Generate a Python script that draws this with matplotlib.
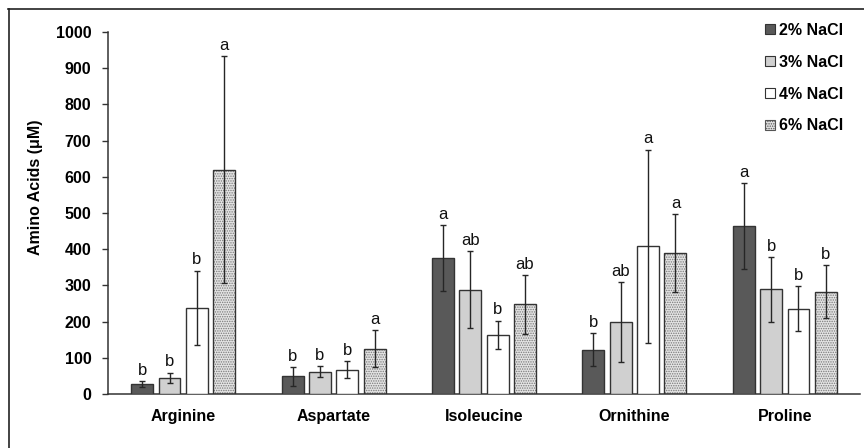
import matplotlib
matplotlib.use("Agg")
import matplotlib.pyplot as plt
import numpy as np
from matplotlib.lines import Line2D
from matplotlib.patches import Patch

plt.rcParams['font.family'] = ['Liberation Sans', 'DejaVu Sans']
plt.rcParams['hatch.linewidth'] = 0.7

categories = ['Arginine', 'Aspartate', 'Isoleucine', 'Ornithine', 'Proline']
series = ['2% NaCl', '3% NaCl', '4% NaCl', '6% NaCl']

nacl2 = [28, 49, 375, 122, 464]
nacl2_err = [8, 26, 91, 46, 118]
nacl3 = [45, 62, 288, 199, 289]
nacl3_err = [14, 16, 107, 110, 90]
nacl4 = [238, 67, 163, 408, 236]
nacl4_err = [103, 24, 40, 267, 61]
nacl6 = [620, 125, 248, 390, 282]
nacl6_err = [314, 51, 81, 107, 73]

letters2 = ['b', 'b', 'a', 'b', 'a']
letters3 = ['b', 'b', 'ab', 'ab', 'b']
letters4 = ['b', 'b', 'b', 'a', 'b']
letters6 = ['a', 'a', 'ab', 'a', 'b']

yticks = [0, 100, 200, 300, 400, 500, 600, 700, 800, 900, 1000]

values = [nacl2, nacl3, nacl4, nacl6]
errors = [nacl2_err, nacl3_err, nacl4_err, nacl6_err]
letters = [letters2, letters3, letters4, letters6]
faces = ['#595959', '#d0d0d0', '#ffffff', '#e4e4e4']
hatches = [None, None, None, '.......']
edge = '#333333'

fig = plt.figure(figsize=(8.64, 4.48), dpi=100)
ax = fig.add_axes([108/864, 1-394/448, (860-108)/864, (394-32)/448])

x = np.arange(len(categories))
pitch = 0.182
width = 0.146
offs = (np.arange(4) - 1.5) * pitch

for i in range(4):
    xs = x + offs[i]
    if hatches[i]:
        ax.bar(xs, values[i], width, color=faces[i], edgecolor='#7a7a7a',
               hatch=hatches[i], linewidth=0, zorder=2)
        ax.bar(xs, values[i], width, fill=False, edgecolor=edge,
               linewidth=1.0, zorder=3)
    else:
        ax.bar(xs, values[i], width, color=faces[i], edgecolor=edge,
               linewidth=1.0, zorder=3)
    ax.errorbar(xs, values[i], yerr=errors[i], fmt='none', ecolor='#262626',
                elinewidth=1.0, capsize=2.5, capthick=1.0, zorder=4)
    for xi, v, e, t in zip(xs, values[i], errors[i], letters[i]):
        ax.annotate(t, (xi, v + e), xytext=(0, 4.5), textcoords='offset points',
                    ha='center', va='baseline', fontsize=12, color='#111111')

ax.set_xlim(-0.5, len(categories) - 0.5)
ax.set_ylim(0, 1000)
ax.set_yticks(yticks)
ax.set_yticklabels([str(t) for t in yticks], fontsize=11.5, fontweight='bold')
ax.set_xticks(x)
ax.set_xticklabels(categories, fontsize=11.5, fontweight='bold')
ax.tick_params(axis='x', length=0, pad=11)
ax.tick_params(axis='y', length=4, width=1, color='#333333', pad=8)
for s in ['top', 'right']:
    ax.spines[s].set_visible(False)
for s in ['left', 'bottom']:
    ax.spines[s].set_color('#333333')
    ax.spines[s].set_linewidth(1.1)
ax.set_ylabel('Amino Acids (μM)', fontsize=11.5, fontweight='bold')
ax.yaxis.set_label_coords((43 - 108) / 752, (394 - 187) / 362)

handles = []
for i in range(4):
    handles.append(Patch(facecolor=faces[i], edgecolor=edge if not hatches[i] else '#555555',
                         hatch=hatches[i], linewidth=0.8))
leg = fig.legend(handles, series, loc='upper left', bbox_to_anchor=(765/864, 1-23/448),
                 frameon=False, prop={'size': 11.5, 'weight': 'bold'},
                 handlelength=0.6, handleheight=0.6, handletextpad=0.3,
                 labelspacing=1.05, borderpad=0, borderaxespad=0)

fig.add_artist(Line2D([8.5/864, 8.5/864], [0, 1-9.5/448], transform=fig.transFigure,
                      color='#222222', lw=1.2))
fig.add_artist(Line2D([8/864, 1], [1-9.5/448, 1-9.5/448], transform=fig.transFigure,
                      color='#222222', lw=1.2))

fig.savefig('out.png', dpi=100)
